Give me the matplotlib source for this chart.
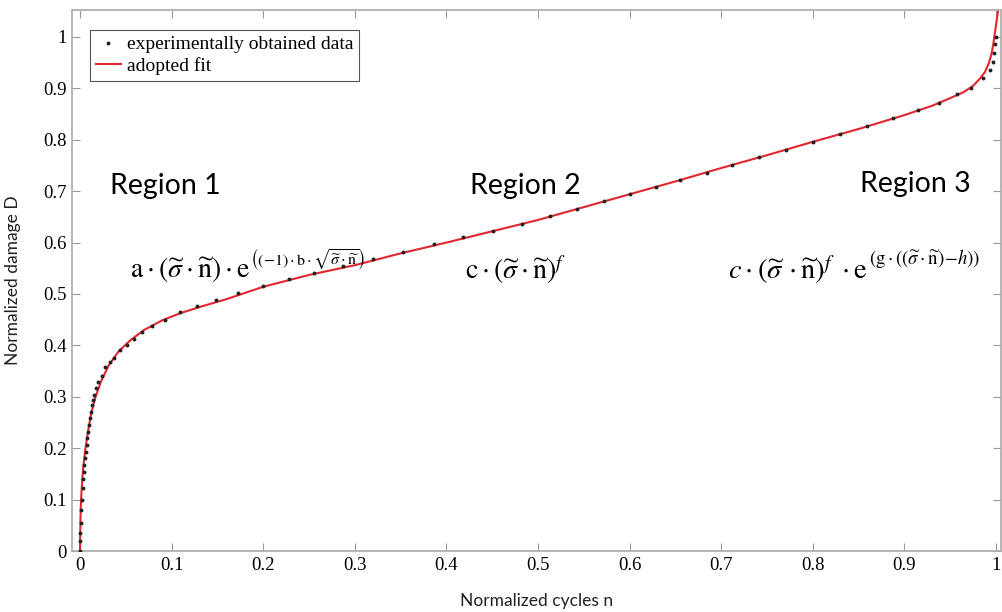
import matplotlib
matplotlib.use("Agg")
import matplotlib.pyplot as plt

# fit curve
fit_n = [0.0, 0.0003, 0.0008, 0.0015, 0.0025, 0.004, 0.006, 0.009, 0.0125, 0.017,
         0.023, 0.031, 0.042, 0.055, 0.07, 0.09, 0.11, 0.135, 0.16, 0.2,
         0.25, 0.3, 0.35, 0.4, 0.45, 0.5, 0.55, 0.6, 0.65, 0.7,
         0.75, 0.8, 0.85, 0.9, 0.93, 0.95, 0.965, 0.975, 0.982, 0.988,
         0.992, 0.995, 0.997, 0.999, 1.001, 1.003]
fit_D = [0.0, 0.04, 0.08, 0.11, 0.14, 0.17, 0.2, 0.235, 0.27, 0.3,
         0.33, 0.36, 0.388, 0.41, 0.43, 0.449, 0.463, 0.477, 0.49, 0.514,
         0.537, 0.556, 0.579, 0.6, 0.622, 0.644, 0.669, 0.694, 0.719, 0.745,
         0.770, 0.796, 0.821, 0.848, 0.866, 0.881, 0.893, 0.905, 0.918, 0.932,
         0.948, 0.966, 0.985, 1.01, 1.035, 1.06]

# experimental points
exp_n = [0.0, 0.0002, 0.0004, 0.0007, 0.0015, 0.002, 0.003, 0.0036, 0.0044, 0.0047,
         0.0055, 0.0065, 0.0073, 0.008, 0.009, 0.010, 0.011, 0.012, 0.0134, 0.0145,
         0.0156, 0.0175, 0.020, 0.0236, 0.0276, 0.033, 0.037, 0.044, 0.051, 0.0585,
         0.068, 0.0785, 0.093, 0.109, 0.128, 0.149, 0.173, 0.2, 0.228, 0.256,
         0.287, 0.32, 0.353, 0.386, 0.418, 0.451, 0.483, 0.513, 0.543, 0.572,
         0.6, 0.629, 0.655, 0.684, 0.712, 0.741, 0.771, 0.8, 0.83, 0.859,
         0.888, 0.915, 0.938, 0.958, 0.973, 0.986, 0.994, 0.997, 0.998, 0.999, 1.0]
exp_D = [0.0, 0.02, 0.035, 0.054, 0.08, 0.1, 0.122, 0.141, 0.154, 0.167,
         0.18, 0.193, 0.206, 0.219, 0.232, 0.245, 0.258, 0.271, 0.284, 0.294,
         0.304, 0.317, 0.329, 0.340, 0.357, 0.367, 0.375, 0.391, 0.401, 0.412,
         0.427, 0.438, 0.449, 0.464, 0.477, 0.488, 0.501, 0.516, 0.529, 0.541,
         0.554, 0.569, 0.582, 0.597, 0.610, 0.623, 0.637, 0.651, 0.665, 0.680,
         0.694, 0.708, 0.721, 0.736, 0.751, 0.766, 0.781, 0.795, 0.811, 0.827,
         0.842, 0.858, 0.872, 0.889, 0.9, 0.92, 0.936, 0.952, 0.968, 0.986, 1.0]

x_ticks = [0, 0.1, 0.2, 0.3, 0.4, 0.5, 0.6, 0.7, 0.8, 0.9, 1]
y_ticks = [0, 0.1, 0.2, 0.3, 0.4, 0.5, 0.6, 0.7, 0.8, 0.9, 1]
tick_labels = ["0", "0.1", "0.2", "0.3", "0.4", "0.5", "0.6", "0.7", "0.8", "0.9", "1"]

plt.rcParams['mathtext.fontset'] = 'stix'

fig = plt.figure(figsize=(10.02, 6.12), dpi=100)
ax = fig.add_axes([72 / 1002, 61 / 612, 929 / 1002, 541 / 612])

ax.plot(fit_n, fit_D, color='#e3262d', lw=1.5, label='adopted fit', zorder=2)
ax.plot(exp_n, exp_D, ls='none', marker='o', ms=1.8, color='#222222',
        label='experimentally obtained data', zorder=3)

ax.set_xlim(-0.0087, 1.0055)
ax.set_ylim(0, 1.0525)
ax.set_xticks(x_ticks)
ax.set_xticklabels(tick_labels)
ax.set_yticks(y_ticks)
ax.set_yticklabels(tick_labels)
ax.tick_params(direction='in', length=6, width=0.8, color='#999999',
               top=True, right=True, labelsize=13.5, pad=4,
               labelfontfamily='Liberation Serif')
for sp in ax.spines.values():
    sp.set_color('#b0b0b0')
    sp.set_linewidth(1.3)

ax.set_xlabel('Normalized cycles n', family='Lato', fontsize=12.5, labelpad=14,
              color='#222222')
ax.set_ylabel('Normalized damage D', family='Lato', fontsize=12.5, labelpad=16,
              color='#222222')

# legend: data first, fit second
h, l = ax.get_legend_handles_labels()
leg = ax.legend(h[::-1], l[::-1], loc='upper left', bbox_to_anchor=(0.0194, 0.963),
                prop={'family': 'Liberation Serif', 'size': 14},
                fancybox=False, edgecolor='#555555', framealpha=1,
                borderpad=0.3, labelspacing=0.2, handlelength=1.3,
                handletextpad=0.3, borderaxespad=0, markerscale=1.0)
leg.get_frame().set_linewidth(0.8)

for txt, xn, yd in [('Region 1', 0.093, 0.71), ('Region 2', 0.486, 0.71),
                    ('Region 3', 0.912, 0.714)]:
    ax.text(xn, yd, txt, family='Lato', fontsize=20.5, ha='center', va='center')

tw = r'\widetilde{\sigma}\cdot\widetilde{\mathrm{n}}'
f1 = r'$\mathrm{a}\cdot\left(' + tw + r'\right)\cdot\mathrm{e}$'
e1 = r'$\left(\left(-1\right)\cdot\mathrm{b}\cdot\sqrt{' + tw + r'}\right)$'
f2 = r'$\mathrm{c}\cdot\left(' + tw + r'\right)^{f}$'
f3 = r'$c\cdot\left(\widetilde{\sigma}\,\cdot\widetilde{\mathrm{n}}\right)^{f}\;\cdot\mathrm{e}$'
e3 = r'$\left(\mathrm{g}\cdot\left(\left(' + tw + r'\right)\!-\!h\right)\right)$'

t1 = ax.text(0.0546, 0.547, f1, fontsize=20, ha='left', va='center')
ax.annotate(e1, xy=(1, 1), xycoords=t1, xytext=(0, 6), textcoords='offset points',
            fontsize=11.5, ha='left', va='top')
ax.text(0.42, 0.547, f2, fontsize=20, ha='left', va='center')
t3 = ax.text(0.707, 0.547, f3, fontsize=20.5, ha='left', va='center')
ax.annotate(e3, xy=(1, 1), xycoords=t3, xytext=(1, 4), textcoords='offset points',
            fontsize=13.5, ha='left', va='top', annotation_clip=False)

fig.savefig('out.png', dpi=100)
